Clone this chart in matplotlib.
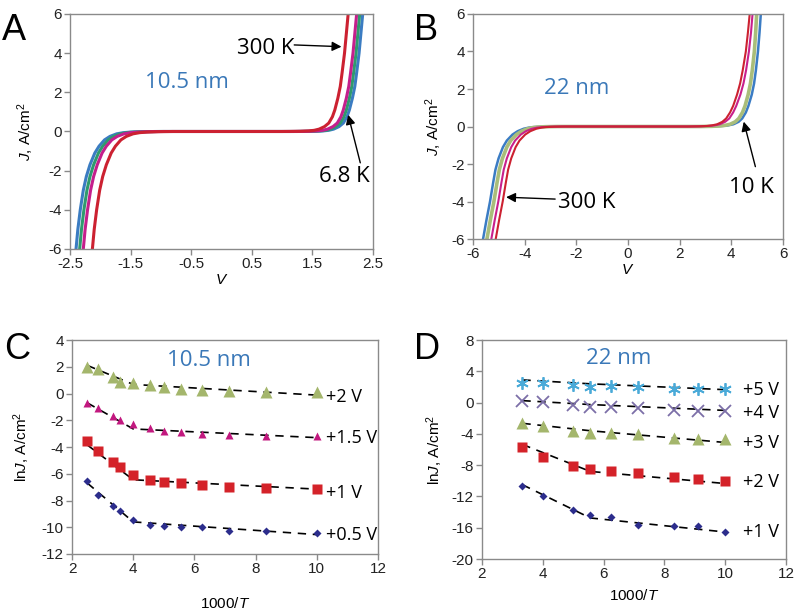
import numpy as np
import matplotlib
matplotlib.use('Agg')
import matplotlib.pyplot as plt

plt.rcParams['font.family'] = ['Liberation Sans', 'DejaVu Sans']
plt.rcParams['mathtext.fontset'] = 'custom'
plt.rcParams['mathtext.rm'] = 'Liberation Sans'
plt.rcParams['mathtext.it'] = 'Liberation Sans:italic'
plt.rcParams['axes.unicode_minus'] = False

ANNOT_FONT = ['Open Sans', 'DejaVu Sans']
NM_BLUE = '#3a78b8'

J_LEVELS = [-6, -5, -4, -3, -2.3, -1.7, -1.1, -0.75, -0.43, -0.25, -0.12, -0.06, -0.03, -0.01, 0,
            0, 0.01, 0.03, 0.06, 0.12, 0.25, 0.43, 0.75, 1.1, 1.7, 2.3, 3, 4, 5, 6]

# 10.5 nm film
A_blue = [-2.40, -2.37, -2.33, -2.28, -2.23, -2.17, -2.09, -2.02, -1.93, -1.84, -1.73, -1.62, -1.50, -1.32, -1.07,
          1.24, 1.54, 1.68, 1.77, 1.85, 1.94, 2.01, 2.07, 2.11, 2.16, 2.20, 2.23, 2.27, 2.30, 2.33]
A_green = [-2.34, -2.31, -2.27, -2.22, -2.17, -2.11, -2.03, -1.96, -1.87, -1.78, -1.67, -1.56, -1.44, -1.26, -1.01,
           1.19, 1.49, 1.63, 1.72, 1.80, 1.89, 1.96, 2.02, 2.06, 2.11, 2.15, 2.18, 2.22, 2.25, 2.28]
A_magenta = [-2.28, -2.25, -2.21, -2.16, -2.11, -2.05, -1.97, -1.90, -1.81, -1.72, -1.61, -1.50, -1.38, -1.20, -0.95,
             1.14, 1.44, 1.58, 1.67, 1.75, 1.84, 1.91, 1.97, 2.01, 2.06, 2.10, 2.13, 2.17, 2.20, 2.23]
A_red = [-2.13, -2.10, -2.06, -2.01, -1.96, -1.90, -1.82, -1.75, -1.66, -1.57, -1.46, -1.35, -1.23, -1.05, -0.80,
         1.00, 1.30, 1.44, 1.53, 1.61, 1.70, 1.77, 1.83, 1.87, 1.92, 1.96, 1.99, 2.03, 2.06, 2.09]

# 22 nm film
B_blue = [-5.61, -5.48, -5.34, -5.22, -5.13, -5.01, -4.84, -4.69, -4.47, -4.27, -4.04, -3.84, -3.64, -3.34, -2.89,
          2.90, 3.35, 3.65, 3.87, 4.08, 4.28, 4.42, 4.56, 4.66, 4.79, 4.88, 4.95, 5.03, 5.09, 5.14]
B_green = [-5.46, -5.33, -5.19, -5.07, -4.98, -4.86, -4.69, -4.54, -4.32, -4.12, -3.89, -3.69, -3.49, -3.19, -2.74,
           2.80, 3.25, 3.55, 3.75, 3.95, 4.15, 4.29, 4.43, 4.53, 4.65, 4.74, 4.81, 4.89, 4.94, 4.98]
B_magenta = [-5.29, -5.16, -5.02, -4.90, -4.81, -4.69, -4.52, -4.37, -4.15, -3.95, -3.72, -3.52, -3.32, -3.02, -2.57,
             2.40, 2.85, 3.15, 3.35, 3.55, 3.76, 3.92, 4.07, 4.19, 4.35, 4.47, 4.57, 4.68, 4.76, 4.82]
B_red = [-5.12, -4.99, -4.85, -4.73, -4.64, -4.52, -4.35, -4.20, -3.98, -3.78, -3.55, -3.35, -3.15, -2.85, -2.40,
         2.30, 2.75, 3.05, 3.25, 3.45, 3.65, 3.80, 3.95, 4.07, 4.22, 4.34, 4.44, 4.56, 4.64, 4.71]

# ---- panel C : ln J vs 1000/T, 10.5 nm ----
C_x = [2.5, 2.86, 3.33, 3.57, 4.0, 4.55, 5.0, 5.56, 6.25, 7.14, 8.33, 10.0]
C_2V = [2.0, 1.8, 1.26, 0.88, 0.77, 0.6, 0.47, 0.35, 0.27, 0.22, 0.15, 0.15]
C_15V = [-0.73, -1.05, -1.67, -1.97, -2.27, -2.6, -2.77, -2.87, -3.0, -3.07, -3.14, -3.19]
C_1V = [-3.56, -4.33, -5.15, -5.52, -6.07, -6.45, -6.6, -6.67, -6.85, -7.0, -7.05, -7.12]
C_05V = [-6.57, -7.57, -8.39, -8.79, -9.46, -9.8, -9.88, -10.0, -10.0, -10.28, -10.3, -10.4]
C_fit_x = [2.5, 4.0, 10.0]
C_fit_2V = [2.1, 0.68, -0.12]
C_fit_15V = [-0.7, -2.65, -3.3]
C_fit_1V = [-3.85, -6.45, -7.15]
C_fit_05V = [-6.7, -9.6, -10.55]

# ---- panel D : ln J vs 1000/T, 22 nm ----
D_x = [3.33, 4.0, 5.0, 5.56, 6.25, 7.14, 8.33, 9.09, 10.0]
D_5V = [2.47, 2.47, 2.26, 2.04, 2.13, 2.04, 1.74, 1.7, 1.74]
D_4V = [0.21, 0.13, -0.3, -0.51, -0.51, -0.64, -0.94, -1.02, -1.02]
D_3V = [-2.55, -2.98, -3.62, -3.83, -3.91, -4.0, -4.55, -4.68, -4.68]
D_2V = [-5.74, -7.02, -8.09, -8.51, -8.81, -9.02, -9.57, -9.74, -10.09]
D_1V = [-10.64, -11.91, -13.79, -14.34, -14.64, -15.66, -15.83, -15.74, -16.55]
D_fit_x = [3.33, 5.56, 10.0]
D_fit_5V = [2.9, 2.4, 1.65]
D_fit_4V = [0.25, -0.25, -1.0]
D_fit_3V = [-2.65, -3.6, -5.1]
D_fit_2V = [-5.35, -8.8, -10.35]
D_fit_1V = [-10.5, -14.75, -16.55]


def style_axes(ax):
    for s in ax.spines.values():
        s.set_color('#8a8a8a')
        s.set_linewidth(1.0)
    ax.tick_params(direction='out', length=4, width=1, color='#8a8a8a',
                   labelsize=11, labelcolor='#222222', pad=2)


def arrow(ax, tip, tail):
    ax.annotate('', xy=tip, xytext=tail,
                arrowprops=dict(arrowstyle='-|>', color='k', lw=1, mutation_scale=14,
                                shrinkA=0, shrinkB=0))


fig = plt.figure(figsize=(7.96, 6.11), dpi=100)

# ---------------- A ----------------
axA = fig.add_axes([0.0879, 0.5925, 0.3807, 0.3846])
for v, c in [(A_blue, '#3b7cc2'), (A_green, '#2f9a6e'),
             (A_magenta, '#c41f8c'), (A_red, '#cc2131')]:
    axA.plot(v, J_LEVELS, color=c, lw=2.2, solid_joinstyle='round')
axA.set_xlim(-2.5, 2.5)
axA.set_ylim(-6, 6)
axA.set_xticks([-2.5, -1.5, -0.5, 0.5, 1.5, 2.5])
axA.set_xticklabels(['-2.5', '-1.5', '-0.5', '0.5', '1.5', '2.5'])
axA.set_yticks(np.arange(-6, 7, 2))
axA.set_xlabel(r'$V$', fontsize=11, labelpad=1)
axA.set_ylabel(r'$J$, A/cm$^2$', fontsize=11, labelpad=9)
style_axes(axA)
axA.text(-0.57, 2.48, '10.5 nm', color=NM_BLUE, fontsize=16, family=ANNOT_FONT,
         ha='center', va='center')
axA.text(1.2, 4.25, '300 K', fontsize=16, family=ANNOT_FONT, ha='right', va='center')
arrow(axA, (1.98, 4.33), (1.2, 4.42))
axA.text(2.02, -2.3, '6.8 K', fontsize=16, family=ANNOT_FONT, ha='center', va='center')
arrow(axA, (2.09, 0.85), (2.29, -1.6))

# ---------------- B ----------------
axB = fig.add_axes([0.5942, 0.6088, 0.3895, 0.3683])
for v, c, w in [(B_blue, '#3b7cc4', 1.8), (B_green, '#a9bd7a', 2.6),
                (B_magenta, '#c8208c', 1.5), (B_red, '#cc2131', 1.5)]:
    axB.plot(v, J_LEVELS, color=c, lw=w, solid_joinstyle='round')
axB.set_xlim(-6, 6)
axB.set_ylim(-6, 6)
axB.set_xticks(np.arange(-6, 7, 2))
axB.set_yticks(np.arange(-6, 7, 2))
axB.set_xlabel(r'$V$', fontsize=11, labelpad=1)
axB.set_ylabel(r'$J$, A/cm$^2$', fontsize=11, labelpad=5)
style_axes(axB)
axB.text(-1.98, 2.04, '22 nm', color=NM_BLUE, fontsize=16, family=ANNOT_FONT,
         ha='center', va='center')
axB.text(-2.7, -4.05, '300 K', fontsize=16, family=ANNOT_FONT, ha='left', va='center')
arrow(axB, (-4.72, -3.77), (-2.82, -3.87))
axB.text(4.77, -3.25, '10 K', fontsize=16, family=ANNOT_FONT, ha='center', va='center')
arrow(axB, (4.48, 0.26), (4.93, -2.14))

# ---------------- C ----------------
DASH = (0, (5, 4))
axC = fig.add_axes([0.0905, 0.0933, 0.3844, 0.3502])
for fy in [C_fit_2V, C_fit_15V, C_fit_1V, C_fit_05V]:
    axC.plot(C_fit_x, fy, color='k', lw=1.2, linestyle=DASH)
axC.plot(C_x, C_2V, '^', color='#a4b66c', ms=8, mec='none')
axC.plot(C_x, C_15V, '^', color='#c2187f', ms=6, mec='none')
axC.plot(C_x, C_1V, 's', color='#d42229', ms=6.5, mec='none')
axC.plot(C_x, C_05V, 'D', color='#2c2d8c', ms=4.5, mec='none')
axC.set_xlim(2, 12)
axC.set_ylim(-12, 4)
axC.set_xticks(np.arange(2, 13, 2))
axC.set_yticks(np.arange(-12, 5, 2))
axC.set_xlabel(r'1000/$T$', fontsize=11, labelpad=14)
axC.set_ylabel(r'ln$J$, A/cm$^2$', fontsize=11, labelpad=7)
style_axes(axC)
axC.text(6.46, 2.5, '10.5 nm', color=NM_BLUE, fontsize=16, family=ANNOT_FONT,
         ha='center', va='center')
for ty, lab in [(-0.25, '+2 V'), (-3.35, '+1.5 V'), (-7.45, '+1 V'), (-10.6, '+0.5 V')]:
    axC.text(10.3, ty, lab, fontsize=13, family=ANNOT_FONT, ha='left', va='center')

# ---------------- D ----------------
axD = fig.add_axes([0.6055, 0.0851, 0.3819, 0.3584])
for fy in [D_fit_5V, D_fit_4V, D_fit_3V, D_fit_2V, D_fit_1V]:
    axD.plot(D_fit_x, fy, color='k', lw=1.2, linestyle=DASH)
axD.plot(D_x, D_5V, linestyle='none', marker=(6, 2, 0), color='#4aaad8', ms=9, mew=1.3)
axD.plot(D_x, D_4V, 'x', color='#7c6fa8', ms=8, mew=1.3)
axD.plot(D_x, D_3V, '^', color='#a4b66c', ms=8, mec='none')
axD.plot(D_x, D_2V, 's', color='#d42229', ms=6.5, mec='none')
axD.plot(D_x, D_1V, 'D', color='#2c2d8c', ms=4.5, mec='none')
axD.set_xlim(2, 12)
axD.set_ylim(-20, 8)
axD.set_xticks(np.arange(2, 13, 2))
axD.set_yticks(np.arange(-20, 9, 4))
axD.set_xlabel(r'1000/$T$', fontsize=11, labelpad=5)
axD.set_ylabel(r'ln$J$, A/cm$^2$', fontsize=11, labelpad=5)
style_axes(axD)
axD.text(6.5, 5.66, '22 nm', color=NM_BLUE, fontsize=16, family=ANNOT_FONT,
         ha='center', va='center')
for ty, lab in [(1.6, '+5 V'), (-1.3, '+4 V'), (-5.2, '+3 V'), (-10.2, '+2 V'), (-16.5, '+1 V')]:
    axD.text(10.6, ty, lab, fontsize=13, family=ANNOT_FONT, ha='left', va='center')

# panel letters
for x, y, s in [(0.003, 0.95, 'A'), (0.52, 0.95, 'B'), (0.005, 0.428, 'C'), (0.52, 0.428, 'D')]:
    fig.text(x, y, s, fontsize=26, ha='left', va='center')

fig.savefig('out.png', dpi=100)
